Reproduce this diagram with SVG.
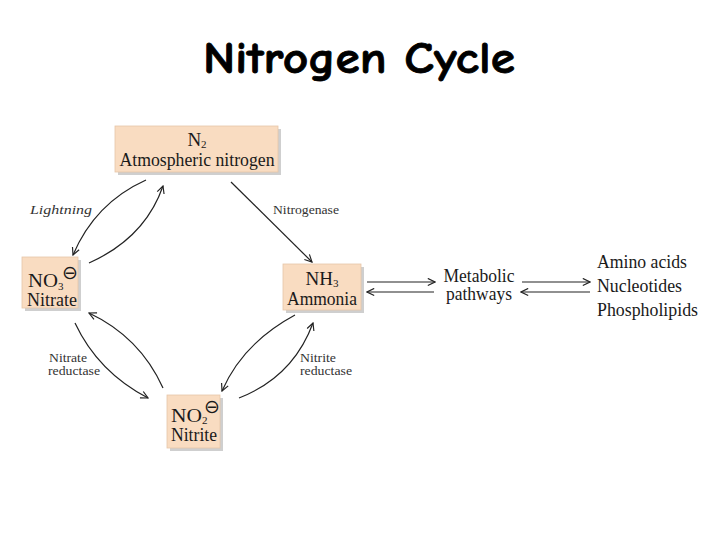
<svg xmlns="http://www.w3.org/2000/svg" width="720" height="540" viewBox="0 0 720 540">
<defs>
<marker id="ah" viewBox="0 0 10 10" refX="9" refY="5" markerWidth="9" markerHeight="9" markerUnits="userSpaceOnUse" orient="auto">
<path d="M1,1 L9,5 L1,9" fill="none" stroke="#222" stroke-width="1.3"/>
</marker>
</defs>
<style>
.box{fill:#f9dcc1;stroke:#e6c6a8;stroke-width:0.8}
.sh{fill:#cfcfcf}
.t{font-family:"Liberation Serif","Times New Roman",serif;font-size:19px;fill:#1a1a1a}
.sub{font-size:11px}
.s{font-family:"Liberation Serif","Times New Roman",serif;font-size:11.5px;fill:#333}
.m{font-family:"DejaVu Sans",sans-serif;font-size:19px;fill:#1a1a1a}
.c{fill:none;stroke:#222;stroke-width:1.2;marker-end:url(#ah)}
</style>
<rect width="720" height="540" fill="#fff"/>
<text x="359" y="73" text-anchor="middle" font-family="'Comic Neue','DejaVu Sans','Liberation Sans',sans-serif" font-weight="bold" font-size="44" textLength="312" lengthAdjust="spacingAndGlyphs" fill="#000" stroke="#000" stroke-width="0.8">Nitrogen Cycle</text>

<g id="n2">
<rect class="sh" x="118" y="129" width="163" height="46"/>
<rect class="box" x="115" y="126" width="163" height="46"/>
<text class="t" x="197" y="146" text-anchor="middle">N<tspan class="sub" dy="2">2</tspan></text>
<text class="t" x="197" y="166" text-anchor="middle" textLength="155" lengthAdjust="spacingAndGlyphs">Atmospheric nitrogen</text>
</g>

<g id="nitrate">
<rect class="sh" x="25" y="260" width="56" height="51"/>
<rect class="box" x="22" y="257" width="56" height="51"/>
<text class="t" x="28" y="287" textLength="30" lengthAdjust="spacingAndGlyphs">NO</text>
<text class="t sub" x="58" y="290">3</text>
<text class="m" x="70" y="279" text-anchor="middle">⊖</text>
<text class="t" x="27" y="306" textLength="50" lengthAdjust="spacingAndGlyphs">Nitrate</text>
</g>

<g id="ammonia">
<rect class="sh" x="286" y="267" width="78" height="46"/>
<rect class="box" x="283" y="264" width="78" height="46"/>
<text class="t" x="322" y="285" text-anchor="middle">NH<tspan class="sub" dy="2">3</tspan></text>
<text class="t" x="322" y="305" text-anchor="middle" textLength="70" lengthAdjust="spacingAndGlyphs">Ammonia</text>
</g>

<g id="nitrite">
<rect class="sh" x="170" y="398" width="53" height="53"/>
<rect class="box" x="167" y="395" width="53" height="53"/>
<text class="t" x="171" y="422" textLength="31" lengthAdjust="spacingAndGlyphs">NO</text>
<text class="t sub" x="202" y="424">2</text>
<text class="m" x="212" y="413" text-anchor="middle">⊖</text>
<text class="t" x="171" y="441" textLength="46" lengthAdjust="spacingAndGlyphs">Nitrite</text>
</g>

<g id="metabolic">
<text class="t" x="479" y="282" text-anchor="middle" textLength="71" lengthAdjust="spacingAndGlyphs">Metabolic</text>
<text class="t" x="479" y="300" text-anchor="middle" textLength="66" lengthAdjust="spacingAndGlyphs">pathways</text>
</g>

<g id="products">
<text class="t" x="597" y="268" textLength="90" lengthAdjust="spacingAndGlyphs">Amino acids</text>
<text class="t" x="597" y="292" textLength="85" lengthAdjust="spacingAndGlyphs">Nucleotides</text>
<text class="t" x="597" y="316" textLength="101" lengthAdjust="spacingAndGlyphs">Phospholipids</text>
</g>

<g id="connectors">
<path class="c" d="M146,180 Q95,203 73,255"/>
<path class="c" d="M89,263 Q145,238 163,186"/>
<path class="c" d="M231,182 L312,262"/>
<path class="c" d="M75,323 Q98,372 148,398"/>
<path class="c" d="M163,388 Q140,337 89,313"/>
<path class="c" d="M295,315 Q243,343 222,391"/>
<path class="c" d="M239,398 Q293,377 313,323"/>
<path class="c" d="M367,282 L435,282"/>
<path class="c" d="M434,292 L367,292"/>
<path class="c" d="M522,282 L590,282"/>
<path class="c" d="M590,292 L521,292"/>
</g>

<g id="labels">
<text class="s" x="30" y="214" font-style="italic" font-size="12.5" textLength="62" lengthAdjust="spacingAndGlyphs">Lightning</text>
<text class="s" x="273" y="214" font-size="12.5" textLength="66" lengthAdjust="spacingAndGlyphs">Nitrogenase</text>
<text class="s" x="49" y="362" textLength="38" lengthAdjust="spacingAndGlyphs">Nitrate</text>
<text class="s" x="48" y="375" textLength="52" lengthAdjust="spacingAndGlyphs">reductase</text>
<text class="s" x="300" y="362" textLength="36" lengthAdjust="spacingAndGlyphs">Nitrite</text>
<text class="s" x="300" y="375" textLength="52" lengthAdjust="spacingAndGlyphs">reductase</text>
</g>
</svg>
